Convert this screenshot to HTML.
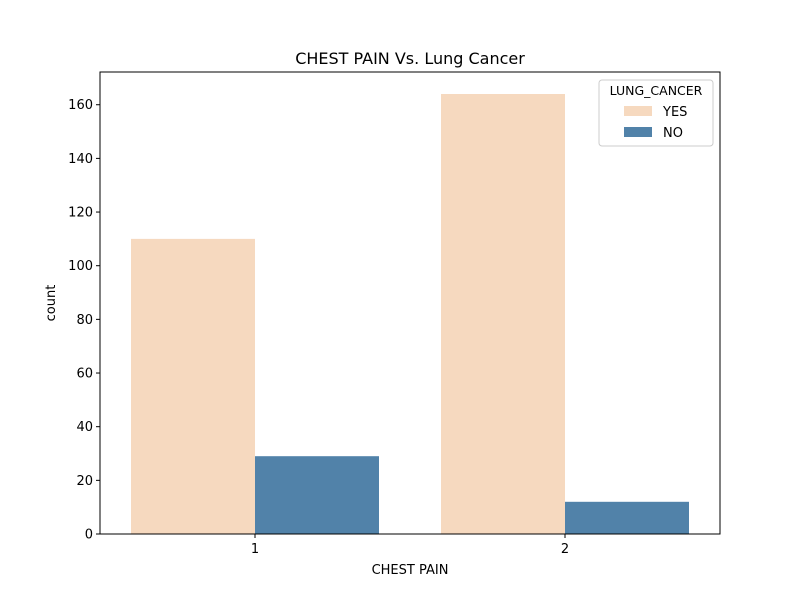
<!DOCTYPE html>
<html><head><meta charset="utf-8"><style>
body{margin:0;background:#fff;font-family:"Liberation Sans","DejaVu Sans",sans-serif;}
svg text{font-family:"DejaVu Sans","Liberation Sans",sans-serif;}
</style></head><body>
<svg id="chart" width="800" height="600" xmlns="http://www.w3.org/2000/svg">
<rect width="800" height="600" fill="#fff"/>
<text x="410" y="64" font-size="16" text-anchor="middle">CHEST PAIN Vs. Lung Cancer</text>
<g id="bars"></g>
<g id="yticks"></g>
<g id="xticks"></g>
<rect x="100" y="72" width="620" height="462" fill="none" stroke="#000" stroke-width="1"/>
<text x="410" y="574" font-size="13" text-anchor="middle">CHEST PAIN</text>
<text transform="translate(55,303) rotate(-90)" font-size="13" text-anchor="middle">count</text>
<g>
<rect x="599" y="80" width="114" height="66" fill="#fff" stroke="#ccc" rx="3"/>
<text x="656" y="95" font-size="12.5" text-anchor="middle">LUNG_CANCER</text>
<rect x="624" y="106" width="28" height="10" fill="#f6d9bf"/>
<text x="663" y="116" font-size="13">YES</text>
<rect x="624" y="127" width="28" height="10" fill="#5182a9"/>
<text x="663" y="137" font-size="13">NO</text>
</g>
</svg>
<script>
const categories = ["1","2"];
const yesValues = [110,164];
const noValues = [29,12];
const yTicks = [0,20,40,60,80,100,120,140,160];
const NS="http://www.w3.org/2000/svg";
const x0=100,x1=720,y0=534,y1=72,ymax=172.2;
const yS=v=>y0-(v/ymax)*(y0-y1);
const xS=i=>x0+(i+0.5)*(x1-x0)/categories.length;
const bw=0.4*(x1-x0)/categories.length;
const bars=document.getElementById('bars');
function mk(tag,attrs,parent){const e=document.createElementNS(NS,tag);for(const k in attrs)e.setAttribute(k,attrs[k]);parent.appendChild(e);return e;}
categories.forEach((c,i)=>{
  const cx=xS(i);
  let r=mk('rect',{x:cx-bw,y:yS(yesValues[i]),width:bw,height:y0-yS(yesValues[i]),fill:'#f6d9bf'},bars);
  
  
  r=mk('rect',{x:cx,y:yS(noValues[i]),width:bw,height:y0-yS(noValues[i]),fill:'#5182a9'},bars);
  
  
  const xt=document.getElementById('xticks');
  mk('line',{x1:cx,x2:cx,y1:y0,y2:y0+4,stroke:'#000'},xt);
  const t=mk('text',{x:cx,y:y0+19,'font-size':13,'text-anchor':'middle'},xt);
  t.textContent=c;
  
  
});
const yt=document.getElementById('yticks');
yTicks.forEach(v=>{
  const y=yS(v);
  mk('line',{x1:x0-4,x2:x0,y1:y,y2:y,stroke:'#000'},yt);
  const t=mk('text',{x:x0-7,y:y+4.5,'font-size':13,'text-anchor':'end'},yt);
  t.textContent=v;
  
  
});
</script>
</body></html>
